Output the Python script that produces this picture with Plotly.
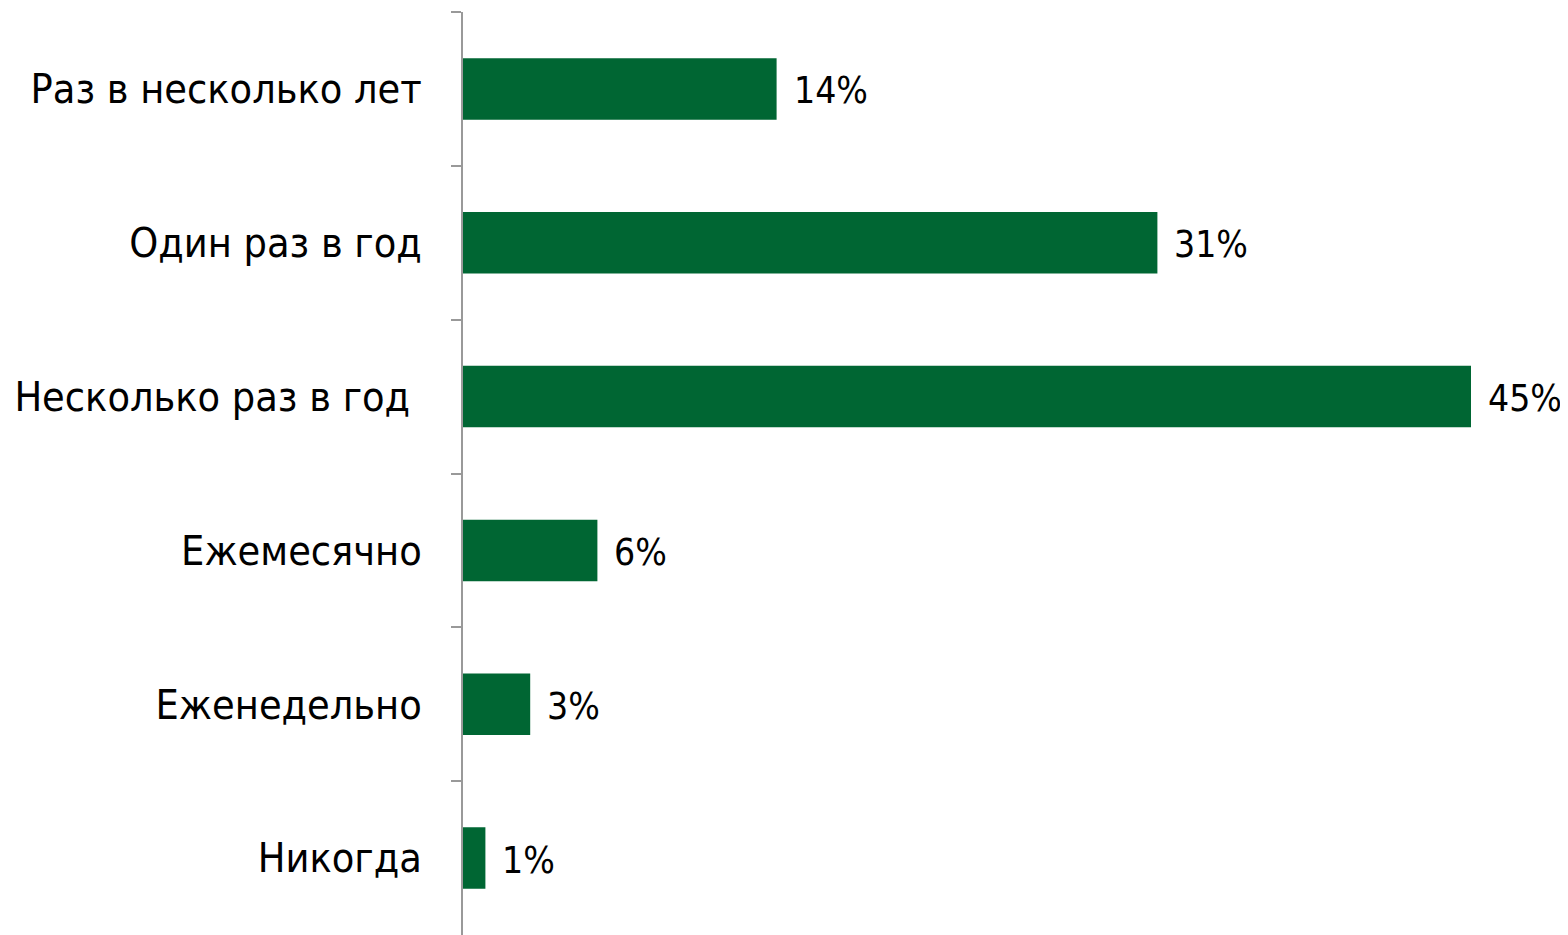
import plotly.graph_objects as go

categories = ["Раз в несколько лет", "Один раз в год", "Несколько раз в год\u00a0",
              "Ежемесячно", "Еженедельно", "Никогда"]
values = [14, 31, 45, 6, 3, 1]
value_labels = ["14%", "31%", "45%", "6%", "3%", "1%"]

GREEN = "#006633"
FONT = "DejaVu Sans Condensed, DejaVu Sans, sans-serif"

fig = go.Figure()
fig.add_trace(go.Bar(
    y=categories, x=values, orientation="h",
    marker=dict(color=GREEN, line=dict(width=0)),
    width=0.4, hoverinfo="skip",
))

for c, v, t in zip(categories, values, value_labels):
    fig.add_annotation(x=v, y=c, text=t, showarrow=False, xanchor="left",
                       xshift=15, yshift=-2, font=dict(family=FONT, size=37, color="#000"))

# page body has an 8px margin, so the figure is offset by 8px
fig.update_layout(
    width=1560, height=927,
    margin=dict(l=455, r=0, t=4, b=0),
    plot_bgcolor="white", paper_bgcolor="white",
    showlegend=False,
    font=dict(family=FONT, size=41, color="#000"),
)
fig.update_xaxes(range=[0, 1105 / 22.4], visible=False, showgrid=False, zeroline=False)
fig.update_yaxes(
    autorange="reversed", type="category",
    showline=True, linecolor="#999999", linewidth=2,
    ticks="outside", ticklen=10, tickcolor="#999999", tickwidth=2,
    tickson="boundaries", showgrid=False,
    ticklabelstandoff=31,
    tickfont=dict(family=FONT, size=41, color="#000"),
)

fig.write_html("out.html")
